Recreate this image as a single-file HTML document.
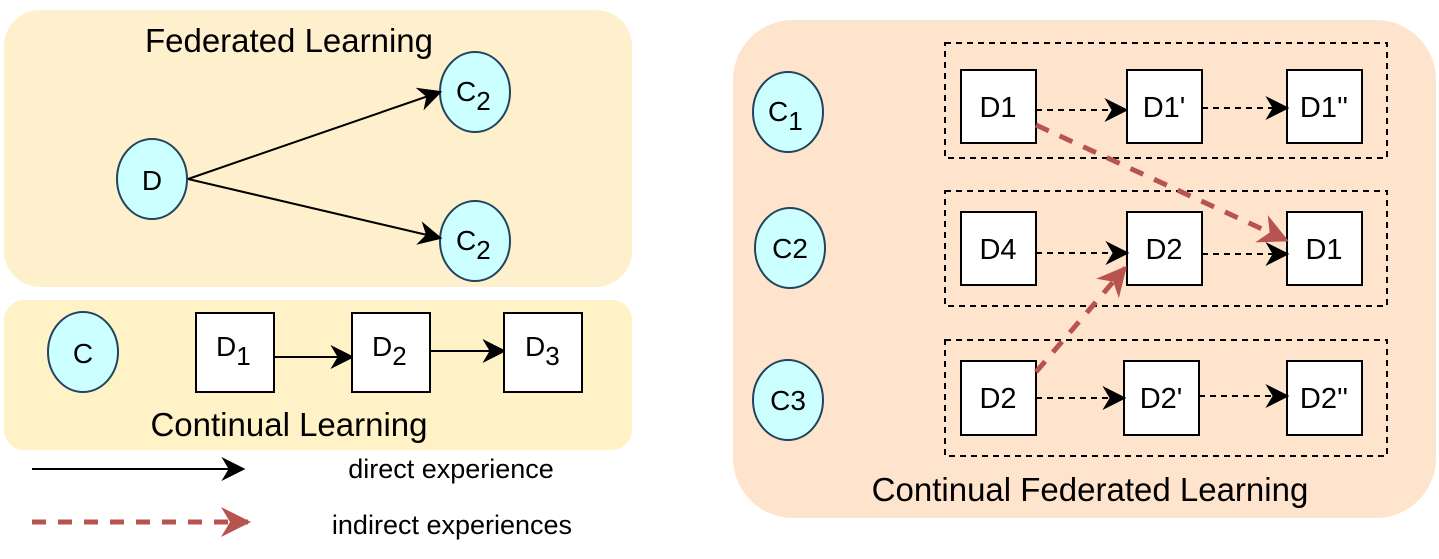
<!DOCTYPE html>
<html><head><style>
body{margin:0;background:#fff;width:1439px;height:554px;overflow:hidden}
text{font-family:"Liberation Sans",Arial,sans-serif;fill:#000}
</style></head><body>
<svg width="1439" height="554" viewBox="0 0 1439 554" xmlns="http://www.w3.org/2000/svg">
<defs>
<marker id="r" viewBox="0 0 10 10" refX="9" refY="5" markerWidth="30" markerHeight="30" orient="auto" markerUnits="userSpaceOnUse"><path d="M0,0 L10,5 L0,10 L3,5 Z" fill="#b85450"/></marker>
<marker id="a2" viewBox="0 0 10 10" refX="9" refY="5" markerWidth="24" markerHeight="24" orient="auto" markerUnits="userSpaceOnUse"><path d="M0,0 L10,5 L0,10 L3,5 Z" fill="#000"/></marker>
</defs>
<rect x="4" y="10" width="628" height="277" rx="36" fill="#fff0cd"/>
<rect x="4" y="300" width="628" height="150" rx="20" fill="#fff2c6"/>
<rect x="733" y="20" width="703" height="498" rx="60" fill="#fee4cc"/>
<text x="289" y="52" font-size="33" text-anchor="middle">Federated Learning</text>
<g fill="#ccffff" stroke="#23445d" stroke-width="2">
<ellipse cx="152" cy="179" rx="35" ry="40"/>
<ellipse cx="475" cy="92" rx="35" ry="40"/>
<ellipse cx="475" cy="241" rx="35" ry="40"/>
<ellipse cx="83" cy="352" rx="35" ry="40"/>
<ellipse cx="788" cy="112" rx="35" ry="40"/>
<ellipse cx="790" cy="248" rx="35" ry="40"/>
<ellipse cx="788" cy="400" rx="35" ry="40"/>
</g>
<g stroke="#000" stroke-width="2" fill="none">
<line x1="188" y1="179" x2="440" y2="92" marker-end="url(#a2)"/>
<line x1="188" y1="179" x2="440" y2="238" marker-end="url(#a2)"/>
<line x1="274" y1="357" x2="352" y2="357" marker-end="url(#a2)"/>
<line x1="430" y1="351" x2="504" y2="351" marker-end="url(#a2)"/>
<line x1="32" y1="469" x2="243" y2="469" marker-end="url(#a2)"/>
</g>
<text x="152" y="190" font-size="28" text-anchor="middle">D</text>
<text x="456" y="101" font-size="28">C<tspan font-size="26" dy="9">2</tspan></text>
<text x="456" y="250" font-size="28">C<tspan font-size="26" dy="9">2</tspan></text>
<text x="83" y="363" font-size="28" text-anchor="middle">C</text>
<g fill="#fff" stroke="#000" stroke-width="2">
<rect x="196" y="313" width="78" height="79"/><rect x="352" y="313" width="78" height="79"/><rect x="504" y="313" width="78" height="79"/>
</g>
<text x="216" y="356" font-size="28">D<tspan font-size="26" dy="9">1</tspan></text>
<text x="372" y="356" font-size="28">D<tspan font-size="26" dy="9">2</tspan></text>
<text x="525" y="356" font-size="28">D<tspan font-size="26" dy="9">3</tspan></text>
<text x="289" y="436" font-size="33" text-anchor="middle">Continual Learning</text>
<text x="451" y="478" font-size="27" text-anchor="middle">direct experience</text>
<line x1="32" y1="522" x2="248" y2="522" stroke="#b85450" stroke-width="5" stroke-dasharray="14,12" marker-end="url(#r)"/>
<text x="452" y="534" font-size="27" text-anchor="middle">indirect experiences</text>

<g fill="none" stroke="#000" stroke-width="2" stroke-dasharray="6,5">
<rect x="945" y="43" width="442" height="115"/>
<rect x="945" y="191" width="442" height="115"/>
<rect x="945" y="340" width="442" height="116"/>
</g>
<g fill="#fff" stroke="#000" stroke-width="2">
<rect x="961" y="70" width="75" height="73"/><rect x="1127" y="70" width="75" height="73"/><rect x="1287" y="70" width="75" height="73"/>
<rect x="961" y="212" width="75" height="73"/><rect x="1127" y="212" width="75" height="73"/><rect x="1287" y="212" width="75" height="73"/>
<rect x="961" y="361" width="75" height="74"/><rect x="1124" y="361" width="75" height="74"/><rect x="1287" y="361" width="75" height="74"/>
</g>
<g stroke="#000" stroke-width="2" stroke-dasharray="6,5" fill="none">
<line x1="1036" y1="110" x2="1126" y2="110" marker-end="url(#a2)"/>
<line x1="1202" y1="108" x2="1287" y2="108" marker-end="url(#a2)"/>
<line x1="1036" y1="253" x2="1127" y2="253" marker-end="url(#a2)"/>
<line x1="1202" y1="254" x2="1287" y2="254" marker-end="url(#a2)"/>
<line x1="1036" y1="398" x2="1124" y2="398" marker-end="url(#a2)"/>
<line x1="1199" y1="396" x2="1287" y2="396" marker-end="url(#a2)"/>
</g>
<g stroke="#b85450" stroke-width="5" stroke-dasharray="14,12" fill="none">
<line x1="1036" y1="125" x2="1286" y2="240" marker-end="url(#r)"/>
<line x1="1036" y1="372" x2="1125" y2="268" marker-end="url(#r)"/>
</g>
<g font-size="29" text-anchor="middle">
<text x="998" y="117">D1</text><text x="1164" y="117">D1'</text><text x="1324" y="117">D1''</text>
<text x="998" y="259">D4</text><text x="1164" y="259">D2</text><text x="1324" y="259">D1</text>
<text x="998" y="408">D2</text><text x="1161" y="408">D2'</text><text x="1324" y="408">D2''</text>
</g>
<text x="768" y="121" font-size="28">C<tspan font-size="26" dy="9">1</tspan></text>
<text x="790" y="258" font-size="28" text-anchor="middle">C2</text>
<text x="788" y="410" font-size="28" text-anchor="middle">C3</text>
<text x="1090" y="501" font-size="33" text-anchor="middle">Continual Federated Learning</text>
</svg>
</body></html>
